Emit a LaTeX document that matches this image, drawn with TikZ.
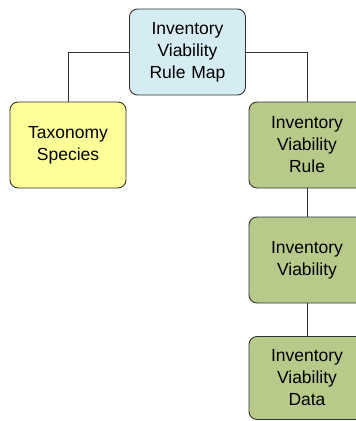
\documentclass[tikz,border=0pt]{standalone}
\usepackage{fontspec}
\setmainfont{Liberation Sans}
\definecolor{mapblue}{RGB}{213,236,242}
\definecolor{taxyellow}{RGB}{255,255,153}
\definecolor{rulegreen}{RGB}{183,202,138}
\definecolor{edgegray}{RGB}{51,51,51}
\begin{document}
\begin{tikzpicture}[x=1pt,y=1pt,
  box/.style={draw=edgegray, line width=0.9pt, rounded corners=8pt,
    minimum width=116pt, minimum height=86pt, text width=110pt,
    align=center, inner sep=0pt,
    font=\fontsize{17.5}{22}\selectfont},
  link/.style={draw=edgegray, line width=0.8pt}]
\useasboundingbox (0,0) rectangle (356,-421);
\clip (0,0) rectangle (356,-421);
\fill[white] (0,0) rectangle (356,-421);

\node[box, fill=mapblue]   (map)  at (187.5,-52) {Inventory\\Viability\\Rule Map};
\node[box, fill=taxyellow] (tax)  at (68,-145)   {Taxonomy\\Species};
\node[box, fill=rulegreen] (rule) at (307,-145)  {Inventory\\Viability\\Rule};
\node[box, fill=rulegreen] (via)  at (307,-260)  {Inventory\\Viability};
\node[box, fill=rulegreen, minimum height=83pt] (data) at (307,-378) {Inventory\\Viability\\Data};

\draw[link] (map.west) -| (tax.north);
\draw[link] (map.east) -| (rule.north);
\draw[link] (rule.south) -- (via.north);
\draw[link] (via.south) -- (data.north);
\end{tikzpicture}
\end{document}
